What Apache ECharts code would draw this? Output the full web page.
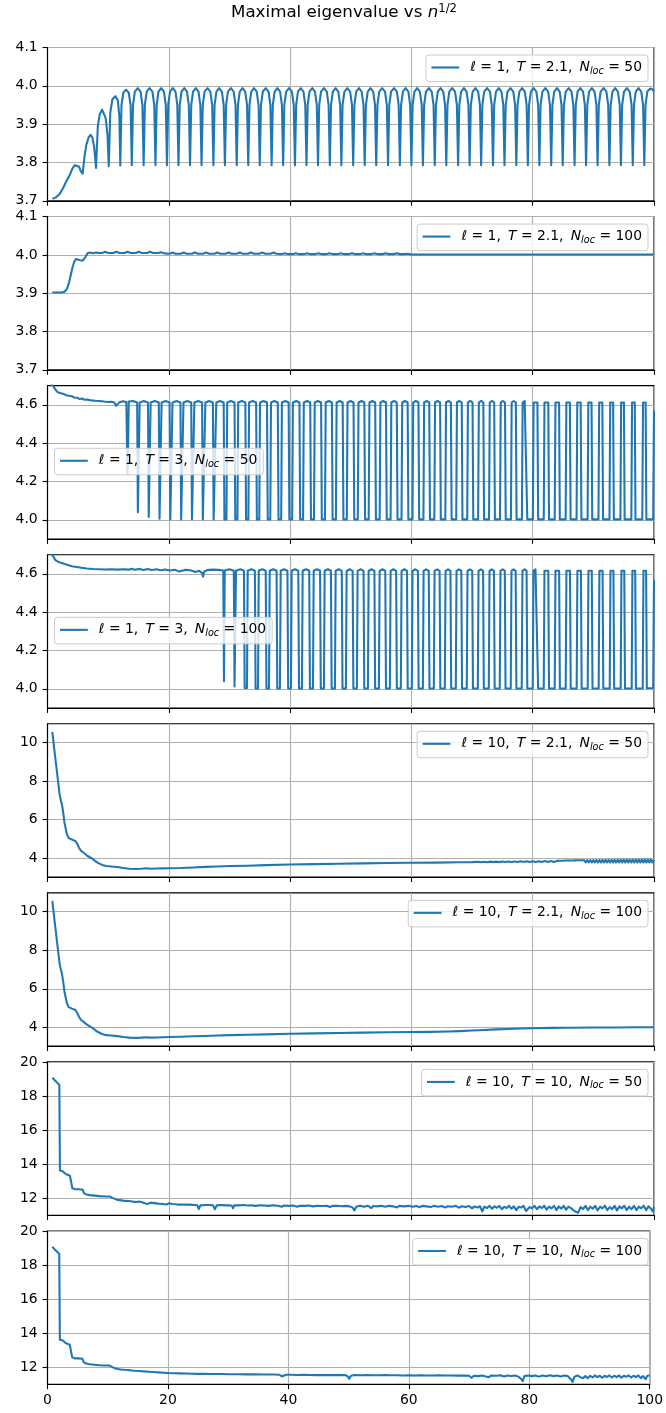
<!DOCTYPE html>
<html><head><meta charset="utf-8">
<script src="https://cdn.jsdelivr.net/npm/echarts/dist/echarts.min.js"></script>
<style>html,body{margin:0;padding:0;background:#fff}#c{width:666px;height:1413px}</style>
</head><body><div id="c"></div>
<script>
// ---------- text ----------
const TITLE_TEXT = 'Maximal eigenvalue vs ';
const TITLE_VAR = 'n';
const TITLE_SUP = '1/2';
const LEG_L = ['1','1','1','1','10','10','10','10'];
const LEG_T = ['2.1','2.1','3','3','2.1','2.1','10','10'];
const LEG_N = ['50','100','50','100','50','100','50','100'];
// ---------- axes ----------
const X_MIN = 0, X_MAX = 100, X_STEP = 20;
const Y_MIN = [3.7, 3.7, 3.9, 3.9, 3.03, 3.03, 11, 11];
const Y_MAX = [4.1, 4.1, 4.7, 4.7, 10.97, 10.97, 20, 20];
const Y_TICKS = [
  [3.7,3.8,3.9,4.0,4.1],[3.7,3.8,3.9,4.0,4.1],
  [4.0,4.2,4.4,4.6],[4.0,4.2,4.4,4.6],
  [4,6,8,10],[4,6,8,10],
  [12,14,16,18,20],[12,14,16,18,20]];
const Y_DEC = [1,1,1,1,0,0,0,0];

// ---------- series values [x, y] ----------
const s1 = [
[0.8,3.705],[1.4,3.709],[2.0,3.718],[2.6,3.734],[3.0,3.748],[3.3,3.757],[3.7,3.768],[4.1,3.784],[4.5,3.793],[4.8,3.795],[5.2,3.789],[5.5,3.777],[5.8,3.771],[6.1,3.815],[6.4,3.846],[6.8,3.866],[7.1,3.872],[7.4,3.865],[7.7,3.840],[8.0,3.786],[8.3,3.895],[8.6,3.925],[9.0,3.938],[9.3,3.936],[9.6,3.915],[9.9,3.870],[10.1,3.790],[10.35,3.930],[10.7,3.965],[11.2,3.973],[11.6,3.962],[11.85,3.920],
[12.0,3.792],[12.2,3.95],[12.5,3.982],[12.95,3.99],[13.4,3.982],[13.7,3.95],
[13.9,3.793],[14.1,3.95],[14.4,3.985],[14.88,3.994],[15.35,3.985],[15.65,3.95],
[15.85,3.793],[16.05,3.95],[16.35,3.985],[16.83,3.994],[17.3,3.985],[17.6,3.95],
[17.8,3.793],[18.0,3.95],[18.3,3.985],[18.75,3.994],[19.2,3.985],[19.5,3.95],
[19.7,3.793],[19.9,3.95],[20.2,3.985],[20.65,3.994],[21.1,3.985],[21.4,3.95],
[21.6,3.793],[21.8,3.95],[22.1,3.985],[22.55,3.994],[23.0,3.985],[23.3,3.95],
[23.5,3.793],[23.7,3.95],[24.0,3.985],[24.45,3.994],[24.9,3.985],[25.2,3.95],
[25.4,3.793],[25.6,3.95],[25.9,3.985],[26.38,3.994],[26.85,3.985],[27.15,3.95],
[27.35,3.793],[27.55,3.95],[27.85,3.985],[28.3,3.994],[28.75,3.985],[29.05,3.95],
[29.25,3.793],[29.45,3.95],[29.75,3.985],[30.23,3.994],[30.7,3.985],[31.0,3.95],
[31.2,3.793],[31.4,3.95],[31.7,3.985],[32.15,3.994],[32.6,3.985],[32.9,3.95],
[33.1,3.793],[33.3,3.95],[33.6,3.985],[34.05,3.994],[34.5,3.985],[34.8,3.95],
[35.0,3.793],[35.2,3.95],[35.5,3.985],[35.98,3.994],[36.45,3.985],[36.75,3.95],
[36.95,3.793],[37.15,3.95],[37.45,3.985],[37.9,3.994],[38.35,3.985],[38.65,3.95],
[38.85,3.793],[39.05,3.95],[39.35,3.985],[39.83,3.994],[40.3,3.985],[40.6,3.95],
[40.8,3.793],[41.0,3.95],[41.3,3.985],[41.75,3.994],[42.2,3.985],[42.5,3.95],
[42.7,3.793],[42.9,3.95],[43.2,3.985],[43.65,3.994],[44.1,3.985],[44.4,3.95],
[44.6,3.793],[44.8,3.95],[45.1,3.985],[45.58,3.994],[46.05,3.985],[46.35,3.95],
[46.55,3.793],[46.75,3.95],[47.05,3.985],[47.5,3.994],[47.95,3.985],[48.25,3.95],
[48.45,3.793],[48.65,3.95],[48.95,3.985],[49.43,3.994],[49.9,3.985],[50.2,3.95],
[50.4,3.793],[50.6,3.95],[50.9,3.985],[51.35,3.994],[51.8,3.985],[52.1,3.95],
[52.3,3.793],[52.5,3.95],[52.8,3.985],[53.25,3.994],[53.7,3.985],[54.0,3.95],
[54.2,3.793],[54.4,3.95],[54.7,3.985],[55.18,3.994],[55.65,3.985],[55.95,3.95],
[56.15,3.793],[56.35,3.95],[56.65,3.985],[57.13,3.994],[57.6,3.985],[57.9,3.95],
[58.1,3.793],[58.3,3.95],[58.6,3.985],[59.05,3.994],[59.5,3.985],[59.8,3.95],
[60.0,3.793],[60.2,3.95],[60.5,3.985],[60.95,3.994],[61.4,3.985],[61.7,3.95],
[61.9,3.793],[62.1,3.95],[62.4,3.985],[62.88,3.994],[63.35,3.985],[63.65,3.95],
[63.85,3.793],[64.05,3.95],[64.35,3.985],[64.8,3.994],[65.25,3.985],[65.55,3.95],
[65.75,3.793],[65.95,3.95],[66.25,3.985],[66.73,3.994],[67.2,3.985],[67.5,3.95],
[67.7,3.793],[67.9,3.95],[68.2,3.985],[68.65,3.994],[69.1,3.985],[69.4,3.95],
[69.6,3.793],[69.8,3.95],[70.1,3.985],[70.55,3.994],[71.0,3.985],[71.3,3.95],
[71.5,3.793],[71.7,3.95],[72.0,3.985],[72.48,3.994],[72.95,3.985],[73.25,3.95],
[73.45,3.793],[73.65,3.95],[73.95,3.985],[74.4,3.994],[74.85,3.985],[75.15,3.95],
[75.35,3.793],[75.55,3.95],[75.85,3.985],[76.33,3.994],[76.8,3.985],[77.1,3.95],
[77.3,3.793],[77.5,3.95],[77.8,3.985],[78.25,3.994],[78.7,3.985],[79.0,3.95],
[79.2,3.793],[79.4,3.95],[79.7,3.985],[80.15,3.994],[80.6,3.985],[80.9,3.95],
[81.1,3.793],[81.3,3.95],[81.6,3.985],[82.08,3.994],[82.55,3.985],[82.85,3.95],
[83.05,3.793],[83.25,3.95],[83.55,3.985],[84.0,3.994],[84.45,3.985],[84.75,3.95],
[84.95,3.793],[85.15,3.95],[85.45,3.985],[85.93,3.994],[86.4,3.985],[86.7,3.95],
[86.9,3.793],[87.1,3.95],[87.4,3.985],[87.85,3.994],[88.3,3.985],[88.6,3.95],
[88.8,3.793],[89.0,3.95],[89.3,3.985],[89.75,3.994],[90.2,3.985],[90.5,3.95],
[90.7,3.793],[90.9,3.95],[91.2,3.985],[91.68,3.994],[92.15,3.985],[92.45,3.95],
[92.65,3.793],[92.85,3.95],[93.15,3.985],[93.6,3.994],[94.05,3.985],[94.35,3.95],
[94.55,3.793],[94.75,3.95],[95.05,3.985],[95.53,3.994],[96.0,3.985],[96.3,3.95],
[96.5,3.793],[96.7,3.95],[97.0,3.985],[97.45,3.994],[97.9,3.985],[98.2,3.95],
[98.4,3.793],[98.6,3.95],[98.9,3.985],[99.4,3.993],[99.8,3.99],[100.0,3.985]
];

const s2 = [
[0.8,3.902],[1.6,3.902],[2.3,3.902],[2.8,3.904],[3.2,3.911],[3.5,3.925],[3.8,3.945],[4.1,3.966],[4.4,3.982],[4.7,3.989],[5.0,3.990],[5.4,3.986],[5.8,3.985],[6.2,3.993],[6.6,4.004],[7.0,4.006],[7.5,4.004],[8.0,4.006],[8.6,4.005],
[9.0,4.005],[9.5,4.008],[10.0,4.005],[10.85,4.005],[11.35,4.008],[11.85,4.005],[12.7,4.005],[13.2,4.008],[13.7,4.005],[14.55,4.005],[15.05,4.008],[15.55,4.005],[16.4,4.005],[16.9,4.008],[17.4,4.005],[18.25,4.005],[18.75,4.007],[19.25,4.004],
[20.1,4.003],[20.6,4.006],[21.1,4.003],[21.95,4.003],[22.45,4.006],[22.95,4.003],[23.8,4.003],[24.3,4.006],[24.8,4.003],[25.65,4.003],[26.15,4.006],[26.65,4.003],[27.5,4.003],[28.0,4.006],[28.5,4.003],[29.35,4.003],[29.85,4.006],[30.35,4.003],[31.2,4.003],[31.7,4.006],[32.2,4.003],[33.05,4.003],[33.55,4.006],[34.05,4.003],[34.9,4.003],[35.4,4.006],[35.9,4.003],[36.75,4.003],[37.25,4.006],[37.75,4.003],
[38.6,4.002],[39.1,4.0045],[39.6,4.002],[40.45,4.002],[40.95,4.0045],[41.45,4.002],[42.3,4.002],[42.8,4.0045],[43.3,4.002],[44.15,4.002],[44.65,4.0045],[45.15,4.002],[46.0,4.002],[46.5,4.0045],[47.0,4.002],[47.85,4.002],[48.35,4.0045],[48.85,4.002],[49.7,4.002],[50.2,4.0045],[50.7,4.002],[51.55,4.002],[52.05,4.0045],[52.55,4.002],[53.4,4.002],[53.9,4.0045],[54.4,4.002],[55.25,4.002],[55.75,4.004],[56.25,4.002],[57.1,4.002],[57.6,4.004],[58.1,4.002],[58.95,4.002],[59.45,4.003],[59.95,4.001],
[62,4.001],[70,4.001],[80,4.001],[90,4.001],[100,4.001]
];

const s3 = [
[0.5,4.705],[0.9,4.700],[1.3,4.680],[1.7,4.665],[2.2,4.660],[2.7,4.656],[3.1,4.650],[3.5,4.647],[4.0,4.645],[4.4,4.638],[4.9,4.637],[5.3,4.630],[5.7,4.633],[6.1,4.626],[6.6,4.627],[7.2,4.623],[7.9,4.621],[8.6,4.620],[9.3,4.617],[10.0,4.615],[10.6,4.616],[11.0,4.612],[11.3,4.595],[11.55,4.605],[11.9,4.614],[12.5,4.618],[13.0,4.615],[13.15,4.30],[13.2,4.24],[13.25,4.30],[13.4,4.617],[14.1,4.62],
[14.78,4.612],[14.90,4.04],[15.08,4.04],[15.20,4.612],[15.89,4.62],
[16.57,4.612],[16.69,4.015],[16.89,4.015],[17.01,4.612],[17.69,4.62],
[18.35,4.612],[18.47,4.006],[18.69,4.006],[18.81,4.612],[19.48,4.62],
[20.13,4.612],[20.25,4.002],[20.49,4.002],[20.61,4.612],[21.27,4.62],
[21.92,4.612],[22.04,4.002],[22.30,4.002],[22.42,4.612],[23.07,4.62],
[23.70,4.612],[23.82,4.002],[24.10,4.002],[24.22,4.612],[24.86,4.62],
[25.49,4.612],[25.61,4.002],[25.91,4.002],[26.03,4.612],[26.66,4.62],
[27.27,4.612],[27.39,4.002],[27.71,4.002],[27.83,4.612],[28.45,4.62],
[29.05,4.612],[29.17,4.002],[29.51,4.002],[29.63,4.612],[30.24,4.62],
[30.84,4.612],[30.96,4.002],[31.32,4.002],[31.44,4.612],[32.04,4.62],
[32.62,4.612],[32.74,4.002],[33.12,4.002],[33.24,4.612],[33.83,4.62],
[34.40,4.612],[34.52,4.002],[34.92,4.002],[35.04,4.612],[35.62,4.62],
[36.19,4.612],[36.31,4.002],[36.73,4.002],[36.85,4.612],[37.42,4.62],
[37.97,4.612],[38.09,4.002],[38.53,4.002],[38.65,4.612],[39.21,4.62],
[39.76,4.612],[39.88,4.002],[40.34,4.002],[40.46,4.612],[41.01,4.62],
[41.54,4.612],[41.66,4.002],[42.14,4.002],[42.26,4.612],[42.80,4.62],
[43.32,4.612],[43.44,4.002],[43.94,4.002],[44.06,4.612],[44.59,4.62],
[45.11,4.612],[45.23,4.002],[45.75,4.002],[45.87,4.612],[46.39,4.62],
[46.89,4.612],[47.01,4.002],[47.55,4.002],[47.67,4.612],[48.18,4.62],
[48.67,4.612],[48.79,4.002],[49.35,4.002],[49.47,4.612],[49.97,4.62],
[50.46,4.612],[50.58,4.002],[51.16,4.002],[51.28,4.612],[51.77,4.62],
[52.24,4.612],[52.36,4.002],[52.96,4.002],[53.08,4.612],[53.56,4.62],
[54.03,4.612],[54.15,4.002],[54.77,4.002],[54.89,4.612],[55.36,4.62],
[55.81,4.612],[55.93,4.002],[56.57,4.002],[56.69,4.612],[57.15,4.62],
[57.59,4.612],[57.71,4.002],[58.37,4.002],[58.49,4.612],[58.94,4.62],
[59.38,4.612],[59.50,4.002],[60.18,4.002],[60.30,4.612],[60.74,4.62],
[61.16,4.612],[61.28,4.002],[61.98,4.002],[62.10,4.612],[62.53,4.62],
[62.94,4.612],[63.06,4.002],[63.78,4.002],[63.90,4.612],[64.32,4.62],
[64.73,4.612],[64.85,4.002],[65.59,4.002],[65.71,4.612],[66.12,4.62],
[66.51,4.612],[66.63,4.002],[67.39,4.002],[67.51,4.612],[67.91,4.62],
[68.30,4.612],[68.42,4.002],[69.20,4.002],[69.32,4.612],[69.71,4.62],
[70.08,4.612],[70.20,4.002],[71.00,4.002],[71.12,4.612],[71.50,4.62],
[71.86,4.612],[71.98,4.002],[72.80,4.002],[72.92,4.612],[73.29,4.62],
[73.65,4.612],[73.77,4.002],[74.61,4.002],[74.73,4.612],[75.09,4.62],
[75.43,4.612],[75.55,4.002],[76.41,4.002],[76.53,4.612],[76.88,4.62],
[77.22,4.612],[77.34,4.002],[78.22,4.002],[78.34,4.612],[78.68,4.62],
[78.99,4.612],[79.11,4.002],[80.03,4.002],[80.15,4.612],[80.47,4.62],
[80.78,4.612],[80.90,4.002],[81.82,4.002],[81.94,4.612],[82.26,4.62],
[82.57,4.612],[82.69,4.002],[83.63,4.002],[83.75,4.612],[84.06,4.62],
[84.35,4.612],[84.47,4.002],[85.43,4.002],[85.55,4.612],[85.85,4.62],
[86.13,4.612],[86.25,4.002],[87.23,4.002],[87.35,4.612],[87.64,4.62],
[87.91,4.612],[88.03,4.002],[89.05,4.002],[89.17,4.612],[89.44,4.62],
[89.70,4.612],[89.82,4.002],[90.84,4.002],[90.96,4.612],[91.23,4.62],
[91.48,4.612],[91.60,4.002],[92.66,4.002],[92.78,4.612],[93.03,4.62],
[93.26,4.612],[93.38,4.002],[94.46,4.002],[94.58,4.612],[94.82,4.62],
[95.04,4.612],[95.16,4.002],[96.26,4.002],[96.38,4.612],[96.61,4.62],
[96.83,4.612],[96.95,4.002],[98.07,4.002],[98.19,4.612],[98.41,4.62],
[98.62,4.612],[98.74,4.002],[99.86,4.002],[100.0,4.57]
];

const s4 = [
[0.5,4.705],[0.9,4.695],[1.3,4.672],[1.8,4.662],[2.5,4.655],[3.2,4.648],[4.0,4.640],[4.8,4.636],[5.6,4.632],[6.5,4.628],[7.5,4.625],[8.5,4.624],[9.5,4.623],[10.5,4.624],[11.5,4.622],[12.5,4.624],[13.4,4.622],[13.9,4.627],[14.4,4.621],[15.2,4.626],[15.8,4.620],[16.5,4.625],[17.2,4.620],[18.0,4.624],[18.6,4.619],[19.4,4.623],[20.2,4.618],[21.0,4.622],[21.7,4.612],[22.0,4.620],[22.8,4.622],[23.7,4.618],[24.4,4.610],[25.0,4.616],[25.5,4.604],[25.65,4.585],[25.8,4.610],[26.3,4.620],[27.2,4.622],[28.2,4.621],
[28.98,4.618],[29.1,4.04],[29.22,4.618],[30.00,4.624],
[30.72,4.616],[30.84,4.012],[30.96,4.012],[31.08,4.616],[31.80,4.624],
[32.39,4.616],[32.51,4.004],[32.89,4.004],[33.01,4.616],[33.61,4.624],
[34.19,4.616],[34.31,4.002],[34.71,4.002],[34.83,4.616],[35.41,4.624],
[35.98,4.616],[36.10,4.002],[36.52,4.002],[36.64,4.616],[37.21,4.624],
[37.77,4.616],[37.89,4.002],[38.33,4.002],[38.45,4.616],[39.01,4.624],
[39.56,4.616],[39.68,4.002],[40.14,4.002],[40.26,4.616],[40.81,4.624],
[41.35,4.616],[41.47,4.002],[41.95,4.002],[42.07,4.616],[42.62,4.624],
[43.15,4.616],[43.27,4.002],[43.77,4.002],[43.89,4.616],[44.42,4.624],
[44.94,4.616],[45.06,4.002],[45.58,4.002],[45.70,4.616],[46.22,4.624],
[46.73,4.616],[46.85,4.002],[47.39,4.002],[47.51,4.616],[48.02,4.624],
[48.52,4.616],[48.64,4.002],[49.20,4.002],[49.32,4.616],[49.82,4.624],
[50.31,4.616],[50.43,4.002],[51.01,4.002],[51.13,4.616],[51.63,4.624],
[52.11,4.616],[52.23,4.002],[52.83,4.002],[52.95,4.616],[53.43,4.624],
[53.90,4.616],[54.02,4.002],[54.64,4.002],[54.76,4.616],[55.23,4.624],
[55.69,4.616],[55.81,4.002],[56.45,4.002],[56.57,4.616],[57.03,4.624],
[57.48,4.616],[57.60,4.002],[58.26,4.002],[58.38,4.616],[58.83,4.624],
[59.27,4.616],[59.39,4.002],[60.07,4.002],[60.19,4.616],[60.64,4.624],
[61.07,4.616],[61.19,4.002],[61.89,4.002],[62.01,4.616],[62.44,4.624],
[62.86,4.616],[62.98,4.002],[63.70,4.002],[63.82,4.616],[64.24,4.624],
[64.65,4.616],[64.77,4.002],[65.51,4.002],[65.63,4.616],[66.04,4.624],
[66.44,4.616],[66.56,4.002],[67.32,4.002],[67.44,4.616],[67.84,4.624],
[68.23,4.616],[68.35,4.002],[69.13,4.002],[69.25,4.616],[69.65,4.624],
[70.03,4.616],[70.15,4.002],[70.95,4.002],[71.07,4.616],[71.45,4.624],
[71.82,4.616],[71.94,4.002],[72.76,4.002],[72.88,4.616],[73.25,4.624],
[73.61,4.616],[73.73,4.002],[74.57,4.002],[74.69,4.616],[75.05,4.624],
[75.40,4.616],[75.52,4.002],[76.38,4.002],[76.50,4.616],[76.85,4.624],
[77.19,4.616],[77.31,4.002],[78.19,4.002],[78.31,4.616],[78.66,4.624],
[78.99,4.616],[79.11,4.002],[80.01,4.002],[80.13,4.616],[80.46,4.624],
[80.78,4.616],[80.90,4.002],[81.82,4.002],[81.94,4.616],[82.26,4.624],
[82.57,4.616],[82.69,4.002],[83.63,4.002],[83.75,4.616],[84.06,4.624],
[84.36,4.616],[84.48,4.002],[85.44,4.002],[85.56,4.616],[85.86,4.624],
[86.15,4.616],[86.27,4.002],[87.25,4.002],[87.37,4.616],[87.67,4.624],
[87.95,4.616],[88.07,4.002],[89.07,4.002],[89.19,4.616],[89.47,4.624],
[89.74,4.616],[89.86,4.002],[90.88,4.002],[91.00,4.616],[91.27,4.624],
[91.52,4.616],[91.64,4.002],[92.70,4.002],[92.82,4.616],[93.07,4.624],
[93.31,4.616],[93.43,4.002],[94.51,4.002],[94.63,4.616],[94.87,4.624],
[95.10,4.616],[95.22,4.002],[96.32,4.002],[96.44,4.616],[96.67,4.624],
[96.90,4.616],[97.02,4.002],[98.14,4.002],[98.26,4.616],[98.48,4.624],
[98.70,4.616],[98.82,4.003],[99.86,4.003],[100.0,4.57]
];

const s5 = [
[0.8,10.55],[1.1,9.7],[1.4,8.9],[1.7,8.1],[2.0,7.3],[2.2,7.0],[2.4,6.75],[2.6,6.35],[2.8,5.85],[3.0,5.55],[3.2,5.25],[3.5,5.05],[3.8,4.98],[4.2,4.95],[4.6,4.9],[4.9,4.75],[5.2,4.55],[5.5,4.4],[5.9,4.3],[6.4,4.17],[6.9,4.07],[7.4,3.98],[7.9,3.85],[8.4,3.75],[9.0,3.66],[9.7,3.6],[10.5,3.58],[11.5,3.55],[12.5,3.5],[13.5,3.46],[14.5,3.45],[15.5,3.46],[16.3,3.49],[17.0,3.46],[18.0,3.47],[19.0,3.48],[20.0,3.49],[22,3.5],[24,3.53],[26,3.56],[28,3.58],[30,3.6],[33,3.62],[36,3.65],[40,3.68],[44,3.7],[48,3.72],[52,3.74],[56,3.76],[60,3.77],[64,3.78],[68,3.8],[70,3.805],
[71,3.82],[71.5,3.8],[72,3.825],[72.5,3.8],[73,3.83],[73.5,3.805],[74,3.83],[74.5,3.805],[75,3.835],[75.5,3.81],[76,3.84],[76.5,3.81],[77,3.84],[77.5,3.81],[78,3.845],[78.5,3.815],[79,3.85],[79.5,3.815],[80,3.85],[80.5,3.815],[81,3.855],[81.5,3.815],[82,3.86],[82.5,3.815],[83,3.865],[83.5,3.81],
[84.0,3.87],[84.25,3.81],[84.5,3.875],[84.75,3.81],[85.0,3.88],[85.25,3.805],[85.5,3.885],[85.75,3.805],[86.0,3.885],[86.25,3.8],[86.5,3.89],[86.75,3.8],[87.0,3.895],[87.25,3.8],[87.5,3.9],[87.75,3.8],[88.0,3.9],[88.25,3.8],[88.5,3.905],[88.75,3.795],[89.0,3.905],[89.25,3.795],[89.5,3.91],[89.75,3.795],[90.0,3.91],[90.25,3.795],[90.5,3.915],[90.75,3.795],[91.0,3.915],[91.25,3.79],[91.5,3.92],[91.75,3.79],[92.0,3.92],[92.25,3.79],[92.5,3.925],[92.75,3.79],[93.0,3.925],[93.25,3.79],[93.5,3.93],[93.75,3.79],[94.0,3.93],[94.25,3.79],[94.5,3.93],[94.75,3.79],[95.0,3.935],[95.25,3.79],[95.5,3.935],[95.75,3.79],[96.0,3.935],[96.25,3.79],[96.5,3.94],[96.75,3.79],[97.0,3.94],[97.25,3.79],[97.5,3.94],[97.75,3.79],[98.0,3.94],[98.25,3.79],[98.5,3.945],[98.75,3.79],[99.0,3.945],[99.25,3.79],[99.5,3.945],[99.75,3.79],[100.0,3.92]
];

const s6 = [
[0.8,10.55],[1.1,9.7],[1.4,8.9],[1.7,8.1],[2.0,7.3],[2.2,7.0],[2.4,6.75],[2.6,6.35],[2.8,5.85],[3.0,5.55],[3.2,5.25],[3.5,5.05],[3.8,4.98],[4.2,4.95],[4.6,4.9],[4.9,4.75],[5.2,4.55],[5.5,4.4],[5.9,4.3],[6.4,4.17],[6.9,4.07],[7.4,3.98],[7.9,3.85],[8.4,3.75],[9.0,3.66],[9.7,3.6],[10.5,3.58],[11.5,3.55],[12.5,3.5],[13.5,3.47],[14.5,3.46],[15.5,3.47],[16.3,3.49],[17.0,3.47],[18.0,3.48],[19.0,3.49],[20,3.50],[22,3.52],[24,3.54],[26,3.56],[28,3.58],[30,3.60],[33,3.62],[36,3.64],[40,3.67],[44,3.69],[48,3.71],[52,3.73],[56,3.75],[60,3.76],[63,3.77],[66,3.79],[68,3.81],[70,3.84],[72,3.87],[74,3.90],[76,3.92],[78,3.94],[80,3.96],[83,3.975],[86,3.985],[90,3.995],[94,4.0],[97,4.005],[100,4.01]
];

const s7 = [
[0.8,19.07],[1.2,18.92],[1.6,18.78],[1.95,18.66],[2.05,13.62],[2.5,13.58],[2.8,13.52],[3.0,13.42],[3.3,13.38],[3.7,13.32],[3.95,13.28],[4.1,12.58],[4.6,12.52],[5.2,12.52],[5.8,12.50],[6.0,12.30],[6.4,12.22],[7.0,12.18],[7.8,12.15],[8.6,12.12],[9.5,12.1],[10.3,12.1],[10.7,12.02],[11.1,11.96],[11.6,11.9],[12.2,11.87],[12.8,11.84],[13.4,11.83],[14.0,11.8],[14.6,11.78],[15.1,11.8],[15.6,11.76],[16.0,11.7],[16.5,11.66],[17.0,11.74],[17.6,11.71],[18.3,11.68],[19.0,11.66],[19.6,11.63],[20.1,11.7],[20.6,11.66],[21.2,11.64],[21.6,11.62],[21.9,11.52],[22.2,11.63],[22.8,11.62],[23.5,11.62],[24.2,11.6],[24.7,11.58],[24.95,11.36],[25.2,11.58],[26.0,11.6],[26.8,11.6],[27.3,11.58],[27.6,11.35],[27.9,11.58],[28.6,11.6],[29.3,11.58],[30.0,11.59],[30.4,11.56],[30.6,11.4],[30.8,11.58],[31.5,11.58],[32.3,11.6],[33.0,11.57],[33.6,11.59],[34.3,11.55],[35.0,11.58],[35.8,11.57],[36.5,11.55],[37.2,11.58],[38.0,11.56],[38.6,11.5],[39.0,11.57],[39.8,11.55],[40.5,11.57],[41.2,11.5],[41.6,11.56],[42.4,11.55],[43.1,11.57],[43.8,11.52],[44.5,11.56],[45.3,11.54],[46.0,11.56],[46.6,11.48],[47.0,11.55],[47.8,11.56],[48.5,11.53],[49.2,11.55],[49.8,11.52],[50.3,11.45],[50.6,11.28],[50.9,11.5],[51.5,11.55],[52.2,11.5],[52.8,11.56],[53.4,11.42],[53.7,11.54],[54.4,11.52],[55.0,11.56],[55.7,11.5],[56.3,11.55],[57.0,11.52],[57.6,11.46],[58.0,11.55],[58.8,11.52],[59.5,11.55],[60.2,11.5],[60.8,11.54],[61.4,11.47],[61.8,11.55],[62.5,11.52],[63.2,11.48],[63.7,11.55],[64.4,11.5],[65.0,11.54],[65.6,11.45],[66.0,11.53],[66.7,11.5],[67.3,11.55],[67.9,11.44],[68.3,11.53],[68.9,11.48],[69.5,11.54],[70.0,11.4],[70.4,11.52],[70.9,11.45],[71.3,11.53],[71.7,11.22],[72.0,11.5],[72.5,11.42],[72.9,11.55],[73.3,11.38],[73.7,11.52],[74.1,11.44],[74.5,11.55],[74.9,11.35],[75.3,11.5],[75.7,11.42],[76.1,11.56],[76.5,11.38],[76.9,11.52],[77.3,11.3],[77.7,11.5],[78.1,11.45],[78.5,11.55],[78.9,11.25],[79.2,11.18],[79.5,11.48],[79.9,11.4],[80.3,11.55],[80.7,11.35],[81.1,11.52],[81.5,11.42],[81.9,11.56],[82.3,11.33],[82.7,11.5],[83.1,11.4],[83.5,11.55],[83.9,11.3],[84.3,11.52],[84.7,11.38],[85.1,11.55],[85.5,11.32],[85.9,11.5],[86.3,11.42],[86.7,11.3],[87.1,11.2],[87.5,11.15],[87.9,11.48],[88.3,11.36],[88.7,11.55],[89.1,11.3],[89.5,11.5],[89.9,11.38],[90.3,11.55],[90.7,11.28],[91.1,11.5],[91.5,11.4],[91.9,11.56],[92.3,11.3],[92.7,11.48],[93.1,11.36],[93.5,11.55],[93.9,11.28],[94.3,11.52],[94.7,11.4],[95.1,11.56],[95.5,11.3],[95.9,11.5],[96.3,11.35],[96.7,11.55],[97.1,11.3],[97.5,11.5],[97.9,11.4],[98.3,11.56],[98.7,11.3],[99.1,11.52],[99.5,11.38],[99.8,11.22],[100.0,11.5]
];

const s8 = [
[0.8,19.07],[1.2,18.92],[1.6,18.78],[1.95,18.66],[2.05,13.62],[2.5,13.58],[2.8,13.52],[3.0,13.42],[3.3,13.38],[3.7,13.32],[3.95,13.28],[4.1,12.58],[4.6,12.52],[5.2,12.52],[5.8,12.50],[6.0,12.30],[6.4,12.22],[7.0,12.18],[7.8,12.15],[8.6,12.12],[9.5,12.1],[10.3,12.1],[10.7,12.02],[11.1,11.96],[11.6,11.9],[12.2,11.87],[12.8,11.85],[13.4,11.84],[14.0,11.81],[14.6,11.79],[15.3,11.78],[16.0,11.76],[16.8,11.74],[17.6,11.72],[18.4,11.7],[19.2,11.68],[20.1,11.66],[21.0,11.65],[22.0,11.64],[23.0,11.63],[24.0,11.62],[25.0,11.61],[26.0,11.61],[27.0,11.6],[28.0,11.6],[29.0,11.6],[30.0,11.59],[31.5,11.59],[33.0,11.58],[34.5,11.58],[36.0,11.57],[37.5,11.57],[38.5,11.56],[38.9,11.46],[39.2,11.5],[39.6,11.56],[40.5,11.56],[41.5,11.55],[42.5,11.56],[43.5,11.55],[44.5,11.54],[45.5,11.55],[46.5,11.54],[47.5,11.55],[48.5,11.54],[49.5,11.54],[49.9,11.45],[50.1,11.32],[50.4,11.5],[51.0,11.54],[52.0,11.53],[53.0,11.54],[54.0,11.53],[55.0,11.53],[56.0,11.54],[57.0,11.53],[58.0,11.53],[59.0,11.52],[60.0,11.53],[61.0,11.52],[62.0,11.53],[63.0,11.52],[64.0,11.52],[65.0,11.53],[66.0,11.52],[67.0,11.52],[68.0,11.51],[69.0,11.52],[70.0,11.5],[70.4,11.38],[70.8,11.5],[71.5,11.48],[72.2,11.52],[72.8,11.46],[73.3,11.42],[73.7,11.52],[74.5,11.5],[75.2,11.53],[75.8,11.46],[76.4,11.52],[77.0,11.49],[77.6,11.52],[78.2,11.45],[78.7,11.3],[78.9,11.18],[79.2,11.48],[79.8,11.52],[80.4,11.48],[81.0,11.52],[81.6,11.45],[82.2,11.52],[82.8,11.47],[83.4,11.53],[84.0,11.48],[84.6,11.52],[85.2,11.46],[85.8,11.52],[86.4,11.48],[86.9,11.3],[87.2,11.14],[87.5,11.45],[88.0,11.52],[88.5,11.42],[88.9,11.35],[89.3,11.48],[89.7,11.36],[90.1,11.5],[90.5,11.4],[90.9,11.52],[91.3,11.42],[91.7,11.5],[92.1,11.38],[92.5,11.5],[92.9,11.43],[93.3,11.52],[93.7,11.4],[94.1,11.5],[94.5,11.42],[94.9,11.52],[95.3,11.38],[95.7,11.5],[96.1,11.44],[96.5,11.52],[96.9,11.4],[97.3,11.5],[97.7,11.42],[98.1,11.52],[98.5,11.36],[98.9,11.48],[99.3,11.3],[99.6,11.5],[100.0,11.52]
];

const SERIES = [s1, s2, s3, s4, s5, s6, s7, s8];

// ---------- layout & style ----------
const FONT = 'DejaVu Sans';
const BLUE = '#1f77b4';
const GRID_LEFT = 47.5, GRID_W = 606.5, TOP0 = 47.5, PITCH = 169.07, GRID_H = 153.3;
const LEG_LEFT_PANELS = [2, 3];

const grids = [], xAxes = [], yAxes = [], series = [], legends = [];
for (let i = 0; i < 8; i++) {
  const top = TOP0 + i * PITCH;
  grids.push({ left: GRID_LEFT, width: GRID_W, top: top, height: GRID_H,
    show: true, borderColor: '#000', borderWidth: 1.1, backgroundColor: 'transparent' });
  xAxes.push({ type: 'value', gridIndex: i, min: X_MIN, max: X_MAX, interval: X_STEP,
    axisLine: { show: true, onZero: false, lineStyle: { color: '#000', width: 1.1 } },
    axisTick: { show: true, length: 4.9, lineStyle: { color: '#000', width: 1.1 } },
    axisLabel: { show: i === 7, margin: 9, color: '#000', fontSize: 13.9, fontFamily: FONT },
    splitLine: { show: true, lineStyle: { color: '#b0b0b0', width: 1.1 } } });
  const dec = Y_DEC[i];
  yAxes.push({ type: 'value', gridIndex: i, min: Y_MIN[i], max: Y_MAX[i],
    axisLine: { show: true, onZero: false, lineStyle: { color: '#000', width: 1.1 } },
    axisTick: { show: true, length: 4.9, customValues: Y_TICKS[i], lineStyle: { color: '#000', width: 1.1 } },
    axisLabel: { show: true, customValues: Y_TICKS[i], margin: 9.8, color: '#000', fontSize: 13.9, fontFamily: FONT,
      formatter: v => Number(v).toFixed(dec) },
    splitLine: { show: true, lineStyle: { color: '#b0b0b0', width: 1.1 } } });
  const name = 'p' + i;
  series.push({ type: 'line', name: name, xAxisIndex: i, yAxisIndex: i, data: SERIES[i],
    showSymbol: false, symbol: 'none', color: BLUE, animation: false,
    lineStyle: { color: BLUE, width: 2.08, join: 'round' } });
  const leg = { data: [name], selectedMode: false, icon: 'rect', itemWidth: 27.8, itemHeight: 2.08,
    backgroundColor: 'rgba(255,255,255,0.8)', borderColor: '#cccccc', borderWidth: 1, borderRadius: 3,
    padding: [5.5, 6, 5.5, 5.5],
    formatter: () => '{i|ℓ}{n| = ' + LEG_L[i] + ', \u2009}{i|T}{n| = ' + LEG_T[i] + ', \u2009}{i|N}{s|loc}{n| = ' + LEG_N[i] + '}',
    textStyle: { fontFamily: FONT, fontSize: 13.9, color: '#000', padding: [0, 0, 0, 6],
      rich: {
        i: { fontFamily: FONT, fontSize: 13.9, fontStyle: 'italic', color: '#000', lineHeight: 17 },
        n: { fontFamily: FONT, fontSize: 13.9, color: '#000', lineHeight: 17 },
        s: { fontFamily: FONT, fontSize: 9.7, fontStyle: 'italic', color: '#000', lineHeight: 10, verticalAlign: 'bottom' }
      } } };
  if (LEG_LEFT_PANELS.indexOf(i) >= 0) {
    leg.left = GRID_LEFT + 7;
    leg.top = top + GRID_H / 2 - 14;
  } else {
    leg.right = 666 - (GRID_LEFT + GRID_W - 6);
    leg.top = top + 7.5;
  }
  legends.push(leg);
}

const chart = echarts.init(document.getElementById('c'), null, { renderer: 'canvas' });
chart.setOption({
  animation: false,
  backgroundColor: '#fff',
  title: { text: '{a|' + TITLE_TEXT + '}{i|' + TITLE_VAR + '}{s|' + TITLE_SUP + '}', left: 231, top: 2.5, padding: 0,
    textStyle: { fontWeight: 'normal', rich: {
      a: { fontFamily: FONT, fontSize: 16.7, fontWeight: 'normal', color: '#000', lineHeight: 20 },
      i: { fontFamily: FONT, fontSize: 16.7, fontWeight: 'normal', fontStyle: 'italic', color: '#000', lineHeight: 20 },
      s: { fontFamily: FONT, fontSize: 11.7, fontWeight: 'normal', color: '#000', lineHeight: 13, verticalAlign: 'top' } } } },
  grid: grids, xAxis: xAxes, yAxis: yAxes, series: series, legend: legends
});
</script></body></html>
